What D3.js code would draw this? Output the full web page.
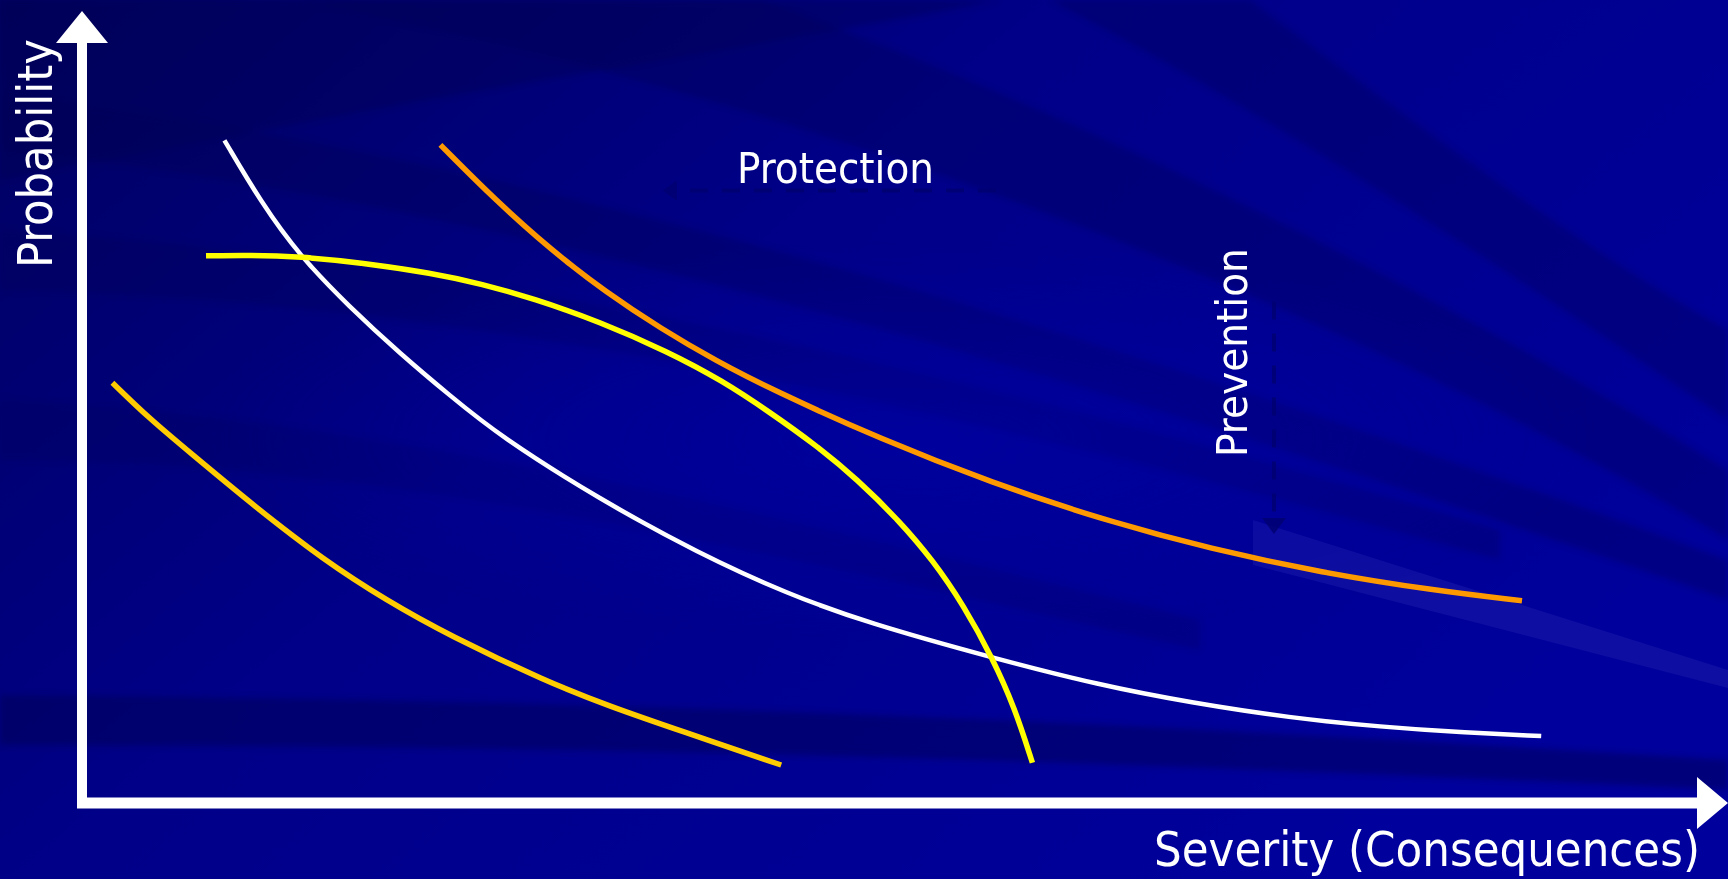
<!DOCTYPE html>
<html>
<head>
<meta charset="utf-8">
<script src="https://cdn.jsdelivr.net/npm/d3@7"></script>
<style>
  html, body { margin: 0; padding: 0; background: #000080; overflow: hidden; }
  svg { display: block; }
</style>
</head>
<body>
<script>
// ---------- data (severity 0-100, probability 0-100) ----------
const whiteCurve = [
  [8.9, 87.2], [11.2, 79.0], [13.6, 72.0], [16.7, 65.3], [19.9, 59.1], [23.0, 53.6],
  [26.1, 48.3], [32.4, 39.9], [38.5, 32.9], [44.1, 27.5], [49.1, 23.7], [56.9, 19.1],
  [63.6, 15.5], [69.3, 13.2], [75.5, 11.2], [81.3, 10.0], [86.1, 9.3], [91.2, 8.8]
];
const yellowCurve = [
  [7.75, 72.0], [10.5, 72.1], [13.6, 71.9], [17.5, 71.1], [21.9, 69.7], [25.0, 68.3],
  [28.2, 66.4], [32.4, 63.3], [36.6, 59.4], [40.0, 55.6], [43.0, 51.4], [45.8, 47.2],
  [48.5, 42.5], [51.0, 37.3], [53.2, 31.9], [55.1, 26.0], [56.9, 19.1], [58.3, 12.5],
  [59.4, 5.3]
];
const orangeCurve = [
  [22.4, 86.6], [25.9, 79.2], [29.3, 72.8], [32.75, 67.2], [36.2, 62.4],
  [39.6, 58.2], [43.1, 54.4], [50.0, 47.8], [56.9, 42.1], [63.75, 37.3],
  [70.6, 33.4], [77.5, 30.3], [84.4, 28.0], [90.0, 26.6]
];
const goldCurve = [
  [1.9, 55.3], [4.2, 50.6], [6.7, 46.2], [10.8, 39.0], [15.1, 32.0], [19.0, 26.7],
  [23.0, 22.0], [29.0, 16.0], [33.0, 12.7], [37.4, 9.5], [43.7, 5.0]
];
const seriesNames = ["white", "yellow", "orange", "gold"];
const seriesColors = ["#ffffff", "#ffff00", "#ff9900", "#ffcc00"];
const axisLabels = { x: "Severity (Consequences)", y: "Probability" };
const annotations = ["Protection", "Prevention"];

// ---------- layout ----------
const W = 1728, H = 879;
const x = d3.scaleLinear().domain([0, 100]).range([82, 1682]);
const y = d3.scaleLinear().domain([0, 100]).range([803, 43]);

const svg = d3.select("body").append("svg").attr("width", W).attr("height", H);

// ---------- background ----------
const defs = svg.append("defs");
const bg = defs.append("linearGradient").attr("id", "bg")
  .attr("x1", "0").attr("y1", "0").attr("x2", "1").attr("y2", "0.6");
bg.append("stop").attr("offset", "0").attr("stop-color", "#000060");
bg.append("stop").attr("offset", "0.45").attr("stop-color", "#000088");
bg.append("stop").attr("offset", "1").attr("stop-color", "#00009c");
svg.append("rect").attr("width", W).attr("height", H).attr("fill", "url(#bg)");
defs.append("filter").attr("id", "soft").append("feGaussianBlur").attr("stdDeviation", 3);

const bands = svg.append("g").attr("filter", "url(#soft)");
bands.append("path").attr("d", "M0,0 L1000,0 C800,40 450,90 0,180 Z")
  .attr("fill", "#000048").attr("opacity", 0.3);
bands.append("path").attr("d", "M300,0 L760,0 C1100,120 1450,300 1728,470 L1728,540 C1400,340 900,120 300,0 Z")
  .attr("fill", "#000050").attr("opacity", 0.3);
bands.append("path").attr("d", "M0,95 C500,150 1100,330 1728,560 L1728,600 C1100,380 500,200 0,150 Z")
  .attr("fill", "#000050").attr("opacity", 0.3);
bands.append("path").attr("d", "M0,230 C500,260 1000,380 1500,530 L1500,560 C1000,420 500,300 0,290 Z")
  .attr("fill", "#000050").attr("opacity", 0.25);
bands.append("path").attr("d", "M1050,0 L1250,0 C1450,150 1600,260 1728,330 L1728,420 C1550,300 1300,130 1050,0 Z")
  .attr("fill", "#000050").attr("opacity", 0.3);
bands.append("path").attr("d", "M0,400 C400,420 800,520 1200,620 L1200,650 C800,560 400,460 0,460 Z")
  .attr("fill", "#000050").attr("opacity", 0.2);
bands.append("path").attr("d", "M0,695 C600,700 1100,720 1728,760 L1728,790 C1100,760 600,745 0,745 Z")
  .attr("fill", "#000048").attr("opacity", 0.4);
svg.append("path").attr("d", "M1253,520 L1728,670 L1728,688 L1300,577 L1253,565 Z")
  .attr("fill", "#2424b0").attr("opacity", 0.4);
const glow = defs.append("radialGradient").attr("id", "glow")
  .attr("cx", "0.5").attr("cy", "0.5").attr("r", "0.5");
glow.append("stop").attr("offset", "0").attr("stop-color", "#0000b0").attr("stop-opacity", 0.45);
glow.append("stop").attr("offset", "1").attr("stop-color", "#0000b0").attr("stop-opacity", 0);
svg.append("ellipse").attr("cx", 900).attr("cy", 440).attr("rx", 700).attr("ry", 200)
  .attr("fill", "url(#glow)");

// faint dashed arrows (Protection ← , Prevention ↓)
const faint = svg.append("g").attr("fill", "none").attr("stroke", "#000070").attr("stroke-width", 4)
  .attr("stroke-dasharray", "18,14").attr("opacity", 0.8);
faint.append("line").attr("x1", x(38)).attr("x2", x(58)).attr("y1", y(80.6)).attr("y2", y(80.6));
svg.append("path").attr("fill", "#000070").attr("opacity", 0.8)
  .attr("d", `M${x(36.3)},${y(80.6)} l14,-10 l0,20 Z`);
faint.append("line").attr("x1", x(74.5)).attr("x2", x(74.5)).attr("y1", y(66)).attr("y2", y(37));
svg.append("path").attr("fill", "#000070").attr("opacity", 0.8)
  .attr("d", `M${x(74.5)},${y(35.4)} l-12,-16 l24,0 Z`);

// ---------- axes ----------
const axes = svg.append("g").attr("fill", "#ffffff");
axes.append("line").attr("x1", x(0)).attr("x2", x(0)).attr("y1", y(0)).attr("y2", y(100))
  .attr("stroke", "#fff").attr("stroke-width", 10);
axes.append("path").attr("d", `M${x(0) - 26},${y(100)} L${x(0) + 26},${y(100)} L${x(0)},${y(100) - 32} Z`);
axes.append("line").attr("x1", x(0) - 5).attr("x2", x(100) + 15).attr("y1", y(0)).attr("y2", y(0))
  .attr("stroke", "#fff").attr("stroke-width", 11);
axes.append("path").attr("d", `M${x(100) + 15},${y(0) - 26} L${x(100) + 15},${y(0) + 26} L${W},${y(0)} Z`);

// ---------- curves ----------
const line = d3.line().x(d => x(d[0])).y(d => y(d[1])).curve(d3.curveBasis);
const all = [whiteCurve, yellowCurve, orangeCurve, goldCurve];
const widths = [4.5, 5.5, 5.5, 5.5];
svg.append("g").selectAll("path").data(all).join("path")
  .attr("class", (d, i) => "curve " + seriesNames[i])
  .attr("d", line)
  .attr("fill", "none")
  .attr("stroke", (d, i) => seriesColors[i])
  .attr("stroke-width", (d, i) => widths[i])
  .attr("stroke-linecap", "butt");

// ---------- text ----------
const FONT = "'DejaVu Sans Condensed', 'Liberation Sans', sans-serif";
function fit(sel, target) {
  sel.attr("font-size", 40);
  const w = sel.node().getComputedTextLength();
  sel.attr("font-size", 40 * target / w);
}
const t1 = svg.append("text").text(axisLabels.y).attr("fill", "#fff").attr("font-family", FONT)
  .attr("transform", "translate(52,268) rotate(-90)");
fit(t1, 229);
const t2 = svg.append("text").text(annotations[0]).attr("fill", "#fff").attr("font-family", FONT)
  .attr("x", 737).attr("y", 183);
fit(t2, 197);
const t3 = svg.append("text").text(annotations[1]).attr("fill", "#fff").attr("font-family", FONT)
  .attr("transform", "translate(1247,457) rotate(-90)");
fit(t3, 209);
const t4 = svg.append("text").text(axisLabels.x).attr("fill", "#fff").attr("font-family", FONT)
  .attr("x", 1154).attr("y", 866);
fit(t4, 546);
</script>
</body>
</html>
